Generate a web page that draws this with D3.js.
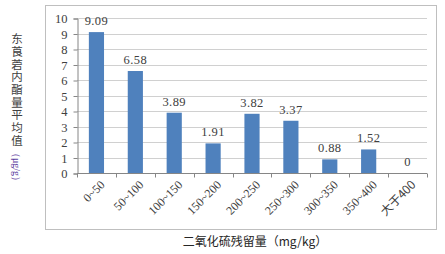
<!DOCTYPE html>
<html><head><meta charset="utf-8">
<script src="https://cdn.jsdelivr.net/npm/d3@7/dist/d3.min.js"></script>
<style>body{margin:0;background:#fff}svg{display:block}</style>
</head><body><svg id="c" width="445" height="254"></svg>
<script>
const categories = ["0~50","50~100","100~150","150~200","200~250","250~300","300~350","350~400","大于400"];
const values = [9.09,6.58,3.89,1.91,3.82,3.37,0.88,1.52,0];
const labels = ["9.09","6.58","3.89","1.91","3.82","3.37","0.88","1.52","0"];
const yTicks = [0,1,2,3,4,5,6,7,8,9,10];
const yTitle = "东莨菪内酯量平均值";
const yUnit = "（μg/g）";
const xTitle = "二氧化硫残留量（mg/kg）";

const svg = d3.select("#c");
const serif = "Liberation Serif, DejaVu Serif, Times New Roman, serif";
const cjk = "Noto Sans CJK SC, Noto Sans, sans-serif";

svg.append("rect").attr("x",45.5).attr("y",5.5).attr("width",391).attr("height",224)
  .attr("fill","#fff").attr("stroke","#bfbfbf").attr("stroke-width",1);

const L=77, R=427, T=18, B=173;
const x = d3.scaleBand().domain(categories).range([L,R]).padding(0);
const y = d3.scaleLinear().domain([0,10]).range([B,T]);

// gridlines
svg.append("g").selectAll("line").data(yTicks.filter(d=>d>0)).join("line")
  .attr("x1",L).attr("x2",R).attr("y1",d=>Math.round(y(d))+0.5).attr("y2",d=>Math.round(y(d))+0.5)
  .attr("stroke","#d0d0d0").attr("stroke-width",1);

// y axis
const ya = svg.append("g").attr("transform",`translate(${L+0.5},0.5)`)
  .call(d3.axisLeft(y).tickValues(yTicks).tickSize(4).tickPadding(6).tickFormat(d3.format("d")));
ya.select(".domain").attr("stroke","#868686");
ya.selectAll(".tick line").attr("stroke","#868686");
ya.selectAll("text").style("font-family",serif).attr("font-size",12.5).attr("fill","#404040");

// bars
const bw = x.bandwidth()*0.39;
svg.append("g").selectAll("rect").data(values).join("rect")
  .attr("x",(d,i)=>x(categories[i])+(x.bandwidth()-bw)/2)
  .attr("width",bw)
  .attr("y",d=>y(d)).attr("height",d=>y(0)-y(d))
  .attr("fill","#4f81bd");

// x axis
const xa = svg.append("g").attr("transform",`translate(0,${B+0.5})`);
xa.append("line").attr("x1",L).attr("x2",R).attr("stroke","#868686");
const bounds = categories.map(c=>x(c)).concat([R]);
xa.selectAll("line.t").data(bounds).join("line").attr("class","t")
  .attr("x1",d=>Math.round(d)+0.5).attr("x2",d=>Math.round(d)+0.5).attr("y1",0).attr("y2",4)
  .attr("stroke","#868686");
xa.selectAll("text").data(categories).join("text")
  .attr("transform",d=>`translate(${x(d)+x.bandwidth()/2+6},${9}) rotate(-45)`)
  .attr("text-anchor","end").attr("dy","0.35em")
  .style("font-family",d=>/[\u4e00-\u9fff]/.test(d)?cjk:serif)
  .attr("font-size",12).attr("fill","#404040").text(d=>d);

// value labels
svg.append("g").selectAll("text").data(values).join("text")
  .attr("x",(d,i)=>x(categories[i])+x.bandwidth()/2)
  .attr("y",d=>y(d)-7)
  .attr("text-anchor","middle").style("font-family",serif).attr("font-size",12.5)
  .attr("letter-spacing",0.4).attr("fill","#404040")
  .text((d,i)=>labels[i]);

// y title (vertical)
svg.append("text").attr("x",17).attr("y",33)
  .style("writing-mode","vertical-rl").style("text-orientation","upright")
  .attr("text-anchor","start").style("font-family",cjk).attr("font-size",11.5)
  .attr("letter-spacing",1.2).attr("fill","#404040").text(yTitle);
svg.append("text").attr("transform","translate(13,167) rotate(90)")
  .attr("text-anchor","middle").style("font-family",serif).attr("font-size",10)
  .attr("fill","#6040a0").text(yUnit);

// x title
svg.append("text").attr("x",255).attr("y",246).attr("text-anchor","middle")
  .style("font-family",cjk).attr("font-size",12).attr("fill","#262626").text(xTitle);
</script></body></html>
